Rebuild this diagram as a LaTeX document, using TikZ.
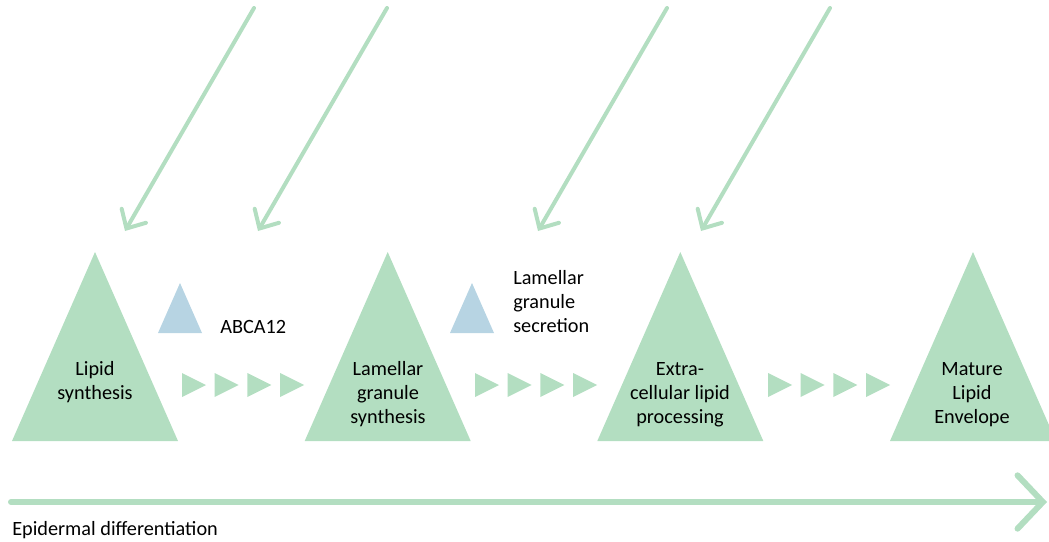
\documentclass[tikz,border=0pt]{standalone}
\usepackage{fontspec}
\setmainfont{Carlito}
\usetikzlibrary{arrows.meta}
\definecolor{lg}{RGB}{179,222,193}
\definecolor{lb}{RGB}{183,212,227}
\begin{document}
\begin{tikzpicture}[x=0.75pt,y=-0.75pt,
  lbl/.style={font=\fontsize{15.2}{18}\selectfont, inner sep=0pt, align=center, anchor=base},
  side/.style={font=\fontsize{15.2}{18}\selectfont, inner sep=0pt, align=left, anchor=base west},
  diag/.style={draw=lg, line width=3pt, line cap=round, -{Straight Barb[length=11pt,width=21pt,line cap=round]}},
  timeline/.style={draw=lg, line width=4.5pt, line cap=round, -{Straight Barb[length=19pt,width=40pt,line cap=round]}}]
\useasboundingbox (0,0) rectangle (1049,542);
\clip (0,0) rectangle (1049,542);
% big triangles
\foreach \cx in {95,387.7,680.3,973}{
  \fill[lg] (\cx-83,441) -- (\cx,252) -- (\cx+83,441) -- cycle;
}
% small blue triangles
\fill[lb] (158,333) -- (180,283) -- (202,333) -- cycle;
\fill[lb] (450,333) -- (472,283) -- (494,333) -- cycle;
% chevrons of small arrows
\foreach \g in {182,475,768}{
  \foreach \k in {0,1,2,3}{
    \fill[lg] (\g+32.7*\k,373) -- (\g+32.7*\k+24,385) -- (\g+32.7*\k,397) -- cycle;
  }
}
% labels (base anchor = baseline of the last line)
\node[lbl] (t1) at (95,399) {Lipid\\synthesis};
\node[lbl] (t2) at (388,423) {Lamellar\\granule\\synthesis};
\node[lbl] (t3) at (680,423) {Extra-\\cellular lipid\\processing};
\node[lbl] (t4) at (972,423) {Mature\\Lipid\\Envelope};
\node[side] (abca) at (220,333) {ABCA12};
\node[side] (lgs) at (513,332) {Lamellar\\granule\\secretion};
\node[side] (epi) at (12,535) {Epidermal differentiation};
% diagonal arrows
\coordinate (s1) at (254,8);  \coordinate (e1) at (125,231);
\coordinate (s2) at (387,8);  \coordinate (e2) at (258,231);
\coordinate (s3) at (667,8);  \coordinate (e3) at (538,231);
\coordinate (s4) at (830,8);  \coordinate (e4) at (701,231);
\draw[diag] (s1) -- (e1);
\draw[diag] (s2) -- (e2);
\draw[diag] (s3) -- (e3);
\draw[diag] (s4) -- (e4);
% timeline
\coordinate (ls) at (11,502);
\coordinate (le) at (1047,502);
\draw[timeline] (ls) -- (le);
\end{tikzpicture}
\end{document}
